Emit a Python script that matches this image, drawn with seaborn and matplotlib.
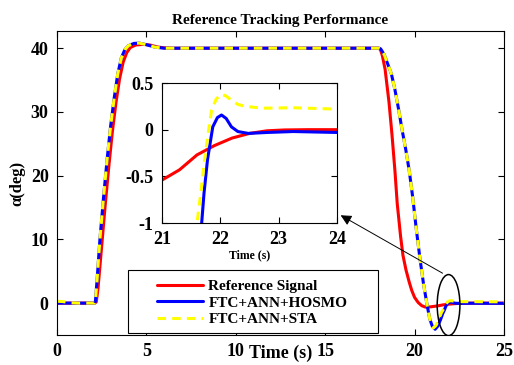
import numpy as np
import pandas as pd
import matplotlib
matplotlib.use('Agg')
import matplotlib.pyplot as plt
from matplotlib.patches import Ellipse, Rectangle
import seaborn as sns

# Reference signal
t_ref = [0, 2.1, 2.2, 2.3, 2.5, 2.7, 2.9, 3.1, 3.3, 3.5, 3.7, 3.9, 4.1, 4.4, 4.8, 5.2, 5.6, 6.0, 6.5, 10, 15,
         18.0, 18.1, 18.2, 18.35, 18.57, 18.74, 18.9, 19.03, 19.22, 19.35, 19.52, 19.7, 19.84, 20.0, 20.2, 20.4,
         20.6, 20.8, 21.0, 21.3, 21.6, 21.9, 22.2, 22.5, 22.8, 23.1, 23.5, 25]
y_ref = [0, 0, 0.2, 2.5, 9, 15.5, 21.5, 27, 31.5, 35.2, 37.8, 39.3, 40.1, 40.5, 40.6, 40.5, 40.2, 40.05, 40, 40, 40,
         40, 39.7, 38.8, 36.7, 31.5, 26.3, 20.8, 15.6, 10.4, 7.5, 5.2, 3.3, 2.0, 0.9, 0.1, -0.4,
         -0.62, -0.62, -0.54, -0.43, -0.27, -0.17, -0.09, -0.04, -0.012, -0.003, 0, 0]

# FTC+ANN+HOSMO
t_hosmo = [0, 2.1, 2.15, 2.25, 2.4, 2.6, 2.8, 3.0, 3.2, 3.4, 3.6, 3.8, 4.0, 4.3, 4.6, 5.0, 5.5, 6.0, 10, 15,
           18.0, 18.1, 18.3, 18.5, 18.7, 18.9, 19.1, 19.3, 19.5, 19.7, 19.9, 20.1, 20.3, 20.5, 20.7, 20.85,
           21.0, 21.15, 21.3, 21.45, 21.58, 21.68, 21.72, 21.78, 21.87, 21.95, 22.02, 22.1, 22.19, 22.3,
           22.48, 22.8, 23.25, 24, 25]
y_hosmo = [0, 0, 0.3, 4, 10, 16.5, 22.5, 27.8, 32.2, 36, 38.5, 39.8, 40.4, 40.75, 40.8, 40.55, 40.15, 40, 40, 40,
           40, 39.9, 39.0, 37.5, 36.0, 33.5, 30.5, 27.2, 24.2, 20.8, 16.5, 11.5, 7.0, 3.0, -0.3, -2.5,
           -3.7, -4.1, -3.6, -2.6, -1.6, -1.0, -0.68, -0.32, 0.03, 0.13, 0.157, 0.12, 0.03, -0.02,
           -0.04, -0.03, -0.02, -0.03, -0.03]

# FTC+ANN+STA
t_sta = [0, 0.3, 0.8, 1.2, 2.1, 2.15, 2.25, 2.4, 2.6, 2.8, 3.0, 3.2, 3.4, 3.6, 3.8, 4.0, 4.3, 4.6, 5.0, 5.5, 6.0, 10, 15,
         18.0, 18.1, 18.3, 18.5, 18.7, 18.9, 19.1, 19.3, 19.5, 19.7, 19.9, 20.1, 20.3, 20.5, 20.7, 20.85,
         20.95, 21.05, 21.2, 21.35, 21.5, 21.6, 21.67, 21.73, 21.8, 21.85, 21.93, 22.02, 22.1, 22.16, 22.3,
         22.43, 22.71, 23.25, 24, 25]
y_sta = [0.3, 0.25, 0.05, 0, 0, 0.3, 4, 10, 16.5, 22.5, 27.8, 32.2, 36, 38.5, 39.8, 40.4, 40.75, 40.8, 40.55, 40.15, 40, 40, 40,
         40, 39.9, 39.0, 37.5, 36.0, 33.5, 30.5, 27.2, 24.2, 20.8, 16.5, 11.5, 7.0, 3.0, -0.3, -2.5,
         -3.3, -3.9, -3.5, -2.5, -1.5, -1.0, -0.65, -0.32, 0.0, 0.21, 0.33, 0.38, 0.36, 0.33, 0.27,
         0.25, 0.23, 0.235, 0.22, 0.2]

labels = ['Reference Signal', 'FTC+ANN+HOSMO', 'FTC+ANN+STA']

sns.set_style('ticks')
plt.rcParams['font.family'] = ['Liberation Serif', 'DejaVu Serif']
plt.rcParams['font.weight'] = 'bold'
plt.rcParams['axes.labelweight'] = 'bold'
plt.rcParams['axes.titleweight'] = 'bold'
plt.rcParams['axes.linewidth'] = 0.8
for k in ['text.color', 'axes.labelcolor', 'axes.edgecolor', 'xtick.color', 'ytick.color']:
    plt.rcParams[k] = 'black'


def draw_lines(ax):
    sns.lineplot(x=t_ref, y=y_ref, color=(1, 0, 0), lw=2.2, sort=False, estimator=None, ax=ax, label=labels[0])
    sns.lineplot(x=t_hosmo, y=y_hosmo, color=(0, 0, 1), lw=2.2, sort=False, estimator=None, ax=ax, label=labels[1])
    sns.lineplot(x=t_sta, y=y_sta, color=(1, 1, 0), lw=2.2, sort=False, estimator=None, ax=ax, label=labels[2],
                 linestyle='--')
    ax.lines[-1].set_dashes((2.8, 2.0))
    if ax.get_legend() is not None:
        ax.get_legend().remove()


fig = plt.figure(figsize=(5.14, 3.65), dpi=100)
ax = fig.add_axes([0.1109, 0.0822, 0.8696, 0.8329])
draw_lines(ax)
ax.set_xlim(0, 25)
ax.set_ylim(-5, 42.7)
ax.set_xticks([0, 5, 10, 15, 20, 25])
ax.set_yticks([0, 10, 20, 30, 40])
ax.tick_params(direction='in', top=True, right=True, length=4, width=0.8, labelsize=13, pad=6)
ax.set_xlabel('Time (s)', fontsize=13, labelpad=-11)
ax.set_ylabel('α(deg)', fontsize=12, labelpad=4)
ax.set_title('Reference Tracking Performance', fontsize=11, pad=5)

# zoom marker and arrow
ax.add_patch(Ellipse((21.9, -0.31), 1.27, 9.58, fill=False, ec='black', lw=1.1, zorder=5))
ax.annotate('', xy=(15.73, 14.0), xytext=(21.7, 4.48),
            arrowprops=dict(arrowstyle='-|>', color='black', lw=0.7, mutation_scale=16), zorder=6)

# legend
ax.add_patch(Rectangle((0.159, 0.007), 0.559, 0.207, transform=ax.transAxes, fc='white', ec='black',
                       lw=0.8, zorder=6))
leg = ax.legend(ax.lines[:3], labels, loc='center left', bbox_to_anchor=(0.224, 0.106), frameon=False,
                fontsize=11, handlelength=3.0, handletextpad=0.35, labelspacing=0.2, borderpad=0,
                borderaxespad=0)
leg.set_zorder(7)

# inset
axin = fig.add_axes([0.3152, 0.389, 0.3405, 0.3836])
draw_lines(axin)
axin.set_xlim(21, 24)
axin.set_ylim(-1, 0.5)
axin.set_xticks([21, 22, 23, 24])
axin.set_yticks([-1, -0.5, 0, 0.5])
axin.set_yticklabels(['-1', '-0.5', '0', '0.5'])
axin.tick_params(direction='in', top=True, right=True, length=4, width=0.8, labelsize=13, pad=6)
axin.set_xlabel('Time (s)', fontsize=8.5, labelpad=1)
axin.set_ylabel('')
axin.set_facecolor('white')

fig.savefig('out.png', dpi=100)
